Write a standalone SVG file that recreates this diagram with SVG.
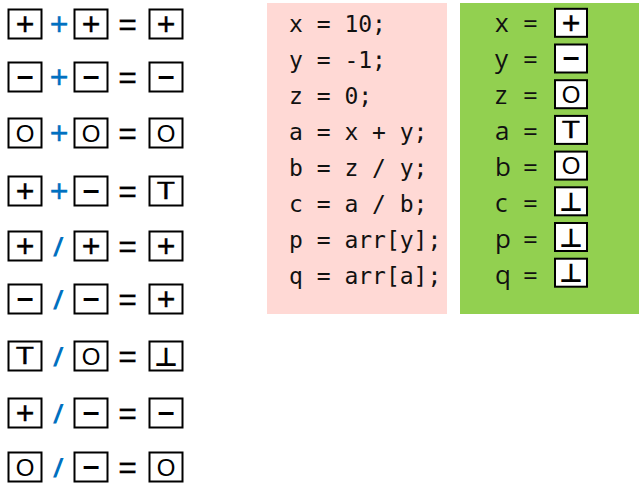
<svg xmlns="http://www.w3.org/2000/svg" width="640" height="487" viewBox="0 0 640 487">
<style>
.box{fill:#fff;stroke:#000;stroke-width:2}
.s{font-family:"Liberation Sans",Arial,sans-serif;fill:#000;text-anchor:middle}
.plus{font-size:32px;stroke:#000;stroke-width:0.35}
.minus{font-size:30px;font-weight:bold}
.oh{font-size:24px}
.tee{font-size:23px;stroke:#000;stroke-width:0.3}
.bot{font-family:"DejaVu Sans",sans-serif;font-size:26px;font-weight:bold}
.op{font-family:"Liberation Sans",Arial,sans-serif;fill:#0070C0;text-anchor:middle}
.bp{stroke:#0070C0;stroke-width:0.4}
.eq{font-family:"Liberation Sans",Arial,sans-serif;font-size:32px;text-anchor:middle;fill:#000;stroke:#000;stroke-width:0.25}
.code{font-family:"DejaVu Sans Mono","Liberation Mono",monospace;font-size:23px;fill:#111}
.gl{font-family:"Open Sans","Noto Sans",sans-serif;font-size:26px;fill:#111}
.geq{font-family:"Open Sans","Noto Sans",sans-serif;font-size:26px;fill:#111;text-anchor:middle}
</style>
<defs>
<g id="P"><text class="s plus" x="0" y="11">+</text></g>
<g id="M"><text class="s minus" x="0" y="8.5">–</text></g>
<g id="O"><text class="s oh" x="0" y="8.5">O</text></g>
<g id="T"><text class="s tee" x="0" y="8.3" transform="scale(1.3,1)">T</text></g>
<g id="B"><text class="s bot" x="0" y="9.5">⊥</text></g>
<g id="bx"><rect class="box" x="-16.5" y="-14.5" width="33" height="29"/></g>
<g id="gbx"><rect class="box" x="-16" y="-14" width="32" height="28"/></g>
</defs>
<g id="rules">
<g id="r1" transform="translate(0,24)">
<use href="#bx" x="25"/><use href="#P" x="25"/>
<text class="op bp" x="59" y="11" font-size="32">+</text>
<use href="#bx" x="91"/><use href="#P" x="91"/>
<text class="eq" x="127.5" y="11">=</text>
<use href="#bx" x="166"/><use href="#P" x="166"/>
</g>
<g id="r2" transform="translate(0,77)">
<use href="#bx" x="25"/><use href="#M" x="25"/>
<text class="op bp" x="59" y="11" font-size="32">+</text>
<use href="#bx" x="91"/><use href="#M" x="91"/>
<text class="eq" x="127.5" y="11">=</text>
<use href="#bx" x="166"/><use href="#M" x="166"/>
</g>
<g id="r3" transform="translate(0,133)">
<use href="#bx" x="25"/><use href="#O" x="25"/>
<text class="op bp" x="59" y="11" font-size="32">+</text>
<use href="#bx" x="91"/><use href="#O" x="91"/>
<text class="eq" x="127.5" y="11">=</text>
<use href="#bx" x="166"/><use href="#O" x="166"/>
</g>
<g id="r4" transform="translate(0,191)">
<use href="#bx" x="25"/><use href="#P" x="25"/>
<text class="op bp" x="59" y="11" font-size="32">+</text>
<use href="#bx" x="91"/><use href="#M" x="91"/>
<text class="eq" x="127.5" y="11">=</text>
<use href="#bx" x="166"/><use href="#T" x="166"/>
</g>
<g id="r5" transform="translate(0,246)">
<use href="#bx" x="25"/><use href="#P" x="25"/>
<text class="op" x="57.5" y="10" font-size="26" font-weight="bold" font-style="italic">/</text>
<use href="#bx" x="91"/><use href="#P" x="91"/>
<text class="eq" x="127.5" y="11">=</text>
<use href="#bx" x="166"/><use href="#P" x="166"/>
</g>
<g id="r6" transform="translate(0,299)">
<use href="#bx" x="25"/><use href="#M" x="25"/>
<text class="op" x="57.5" y="10" font-size="26" font-weight="bold" font-style="italic">/</text>
<use href="#bx" x="91"/><use href="#M" x="91"/>
<text class="eq" x="127.5" y="11">=</text>
<use href="#bx" x="166"/><use href="#P" x="166"/>
</g>
<g id="r7" transform="translate(0,356)">
<use href="#bx" x="25"/><use href="#T" x="25"/>
<text class="op" x="57.5" y="10" font-size="26" font-weight="bold" font-style="italic">/</text>
<use href="#bx" x="91"/><use href="#O" x="91"/>
<text class="eq" x="127.5" y="11">=</text>
<use href="#bx" x="166"/><use href="#B" x="166"/>
</g>
<g id="r8" transform="translate(0,413)">
<use href="#bx" x="25"/><use href="#P" x="25"/>
<text class="op" x="57.5" y="10" font-size="26" font-weight="bold" font-style="italic">/</text>
<use href="#bx" x="91"/><use href="#M" x="91"/>
<text class="eq" x="127.5" y="11">=</text>
<use href="#bx" x="166"/><use href="#M" x="166"/>
</g>
<g id="r9" transform="translate(0,467)">
<use href="#bx" x="25"/><use href="#O" x="25"/>
<text class="op" x="57.5" y="10" font-size="26" font-weight="bold" font-style="italic">/</text>
<use href="#bx" x="91"/><use href="#M" x="91"/>
<text class="eq" x="127.5" y="11">=</text>
<use href="#bx" x="166"/><use href="#O" x="166"/>
</g>
</g>
<g id="code">
<rect x="267" y="3" width="180" height="311" fill="#FFD9D5"/>
<text class="code" x="289" y="31.5">x = 10;</text>
<text class="code" x="289" y="67.5">y = -1;</text>
<text class="code" x="289" y="103.5">z = 0;</text>
<text class="code" x="289" y="139.5">a = x + y;</text>
<text class="code" x="289" y="175.5">b = z / y;</text>
<text class="code" x="289" y="211.5">c = a / b;</text>
<text class="code" x="289" y="247.5">p = arr[y];</text>
<text class="code" x="289" y="283.5">q = arr[a];</text>
</g>
<g id="values">
<rect x="460" y="3" width="179" height="311" fill="#92D050"/>
<text class="gl" x="495" y="31.5">x</text>
<text class="gl" x="495" y="67.5">y</text>
<text class="gl" x="495" y="103.5">z</text>
<text class="gl" x="495" y="139.5">a</text>
<text class="gl" x="495" y="175.5">b</text>
<text class="gl" x="495" y="211.5">c</text>
<text class="gl" x="495" y="247.5">p</text>
<text class="gl" x="495" y="283.5">q</text>
<text class="geq" x="530.5" y="33">=</text>
<text class="geq" x="530.5" y="69">=</text>
<text class="geq" x="530.5" y="105">=</text>
<text class="geq" x="530.5" y="141">=</text>
<text class="geq" x="530.5" y="177">=</text>
<text class="geq" x="530.5" y="213">=</text>
<text class="geq" x="530.5" y="249">=</text>
<text class="geq" x="530.5" y="285">=</text>
<g transform="translate(571,22.8)"><use href="#gbx"/><use href="#P"/></g>
<g transform="translate(571,58.5)"><use href="#gbx"/><use href="#M"/></g>
<g transform="translate(571,94.2)"><use href="#gbx"/><use href="#O"/></g>
<g transform="translate(571,129.9)"><use href="#gbx"/><use href="#T"/></g>
<g transform="translate(571,165.6)"><use href="#gbx"/><use href="#O"/></g>
<g transform="translate(571,201.3)"><use href="#gbx"/><use href="#B"/></g>
<g transform="translate(571,237)"><use href="#gbx"/><use href="#B"/></g>
<g transform="translate(571,272.7)"><use href="#gbx"/><use href="#B"/></g>
</g>
</svg>
